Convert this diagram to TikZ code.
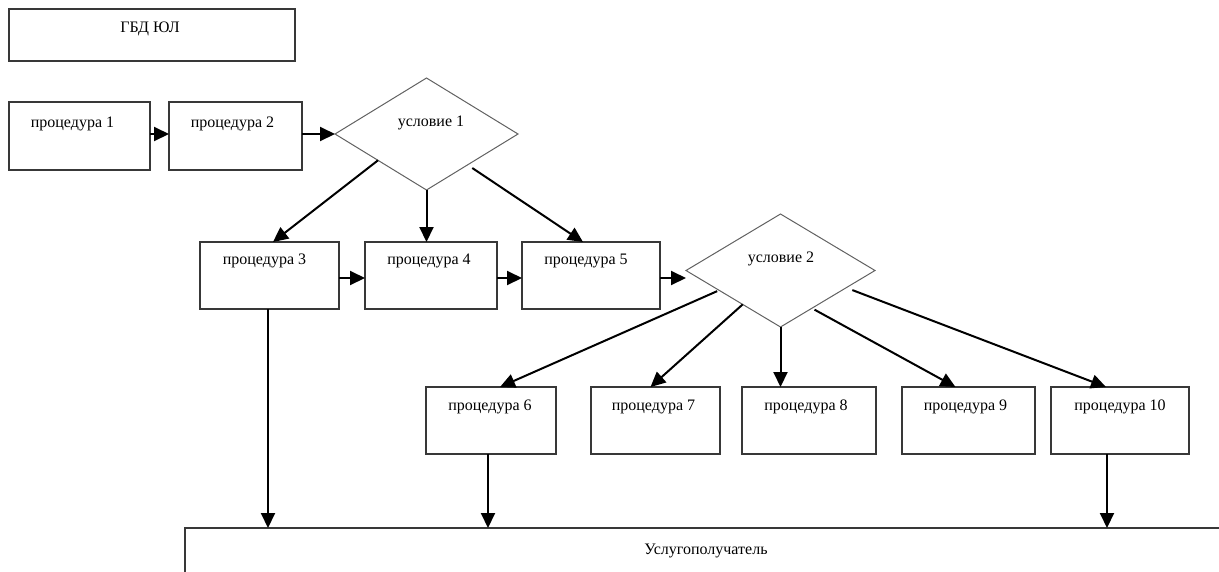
\documentclass[tikz,border=0pt]{standalone}
\usepackage{fontspec}
\setmainfont{Liberation Serif}
\usetikzlibrary{arrows.meta,shapes.geometric,calc}
\tikzset{
  box/.style={draw=black!78, line width=1.3pt, rectangle, inner sep=0pt, outer sep=0pt, anchor=north west},
  cond/.style={draw=black!62, line width=1pt, diamond, inner sep=0pt, outer sep=0pt},
  txt/.style={anchor=base, inner sep=0pt, font=\fontsize{16}{19}\selectfont},
  arr/.style={draw=black, line width=2pt, -{Triangle[length=15pt,width=14pt]}},
  row1/.style={box, minimum height=68},
  row2/.style={box, minimum height=67},
  row3/.style={box, minimum height=67}
}
\begin{document}
\begin{tikzpicture}[x=1pt, y=-1pt]
\useasboundingbox (0,0) rectangle (1219,571);
\clip (0,0) rectangle (1219,571);

% top box
\node[box, minimum width=286, minimum height=52] (gbd) at (9,9) {};
\node[txt] (gbdt) at ($(gbd.north)+(-2,23)$) {ГБД ЮЛ};

% row 1
\node[row1, minimum width=141] (p1) at (9,102) {};
\node[txt] (p1t) at ($(p1.north)+(-7,25)$) {процедура 1};
\node[row1, minimum width=133] (p2) at (169,102) {};
\node[txt] (p2t) at ($(p2.north)+(-3,25)$) {процедура 2};
\node[cond, minimum width=183, minimum height=112] (d1) at (426.5,134) {};
\node[txt] (d1t) at ($(d1.center)+(4.5,-8)$) {условие 1};

% row 2
\node[row2, minimum width=139] (p3) at (200,242) {};
\node[txt] (p3t) at ($(p3.north)+(-5,22)$) {процедура 3};
\node[row2, minimum width=132] (p4) at (365,242) {};
\node[txt] (p4t) at ($(p4.north)+(-2,22)$) {процедура 4};
\node[row2, minimum width=138] (p5) at (522,242) {};
\node[txt] (p5t) at ($(p5.north)+(-5,22)$) {процедура 5};
\node[cond, minimum width=189, minimum height=113] (d2) at (780.5,270.5) {};
\node[txt] (d2t) at ($(d2.center)+(0.5,-8.5)$) {условие 2};

% row 3
\node[row3, minimum width=130] (p6) at (426,387) {};
\node[txt] (p6t) at ($(p6.north)+(-1,23)$) {процедура 6};
\node[row3, minimum width=129] (p7) at (591,387) {};
\node[txt] (p7t) at ($(p7.north)+(-2,23)$) {процедура 7};
\node[row3, minimum width=134] (p8) at (742,387) {};
\node[txt] (p8t) at ($(p8.north)+(-3,23)$) {процедура 8};
\node[row3, minimum width=133] (p9) at (902,387) {};
\node[txt] (p9t) at ($(p9.north)+(-3,23)$) {процедура 9};
\node[row3, minimum width=138] (p10) at (1051,387) {};
\node[txt] (p10t) at ($(p10.north)+(0,23)$) {процедура 10};

% receiver
\node[box, minimum width=1042, minimum height=90] (recv) at (185,528) {};
\node[txt] (recvt) at ($(recv.north)+(0,26)$) {Услугополучатель};

% horizontal arrows
\draw[arr] (p1.east |- d1.west) -- (p2.west |- d1.west);
\draw[arr] (p2.east |- d1.west) -- (d1.west);
\coordinate (h3) at ([yshift=-2.5pt]p3.east);
\coordinate (h4) at ([yshift=-2.5pt]p4.east);
\coordinate (h5) at ([yshift=-2.5pt]p5.east);
\draw[arr] (h3) -- (h3 -| p4.west);
\draw[arr] (h4) -- (h4 -| p5.west);
\draw[arr] (h5) -- (h5 -| d2.west);

% from condition 1
\coordinate (s13) at ($(d1.west)!0.47!(d1.south)$);
\coordinate (s15) at ([yshift=-6pt]$(d1.south)!0.5!(d1.east)$);
\draw[arr] (s13) -- ([xshift=3.5pt]p3.north);
\draw[arr] (d1.south) -- (d1.south |- p4.north);
\draw[arr] (s15) -- ([xshift=-8pt]p5.north);

% from condition 2
\coordinate (s26) at ([yshift=-2pt]$(d2.west)!0.33!(d2.south)$);
\coordinate (s27) at ($(d2.west)!0.6!(d2.south)$);
\coordinate (s29) at ([yshift=-3pt]$(d2.south)!0.36!(d2.east)$);
\coordinate (s210) at ([yshift=-6pt]$(d2.south)!0.76!(d2.east)$);
\draw[arr] (s26) -- ([xshift=9pt]p6.north);
\draw[arr] (s27) -- ([xshift=-5pt]p7.north);
\draw[arr] (d2.south) -- (d2.south |- p8.north);
\draw[arr] (s29) -- ([xshift=-13pt]p9.north);
\draw[arr] (s210) -- ([xshift=-14pt]p10.north);

% down to receiver
\coordinate (a3) at ([xshift=-1.5pt]p3.south);
\coordinate (a6) at ([xshift=-3pt]p6.south);
\coordinate (a10) at ([xshift=-13pt]p10.south);
\draw[arr] (a3) -- (a3 |- recv.north);
\draw[arr] (a6) -- (a6 |- recv.north);
\draw[arr] (a10) -- (a10 |- recv.north);
\end{tikzpicture}
\end{document}
